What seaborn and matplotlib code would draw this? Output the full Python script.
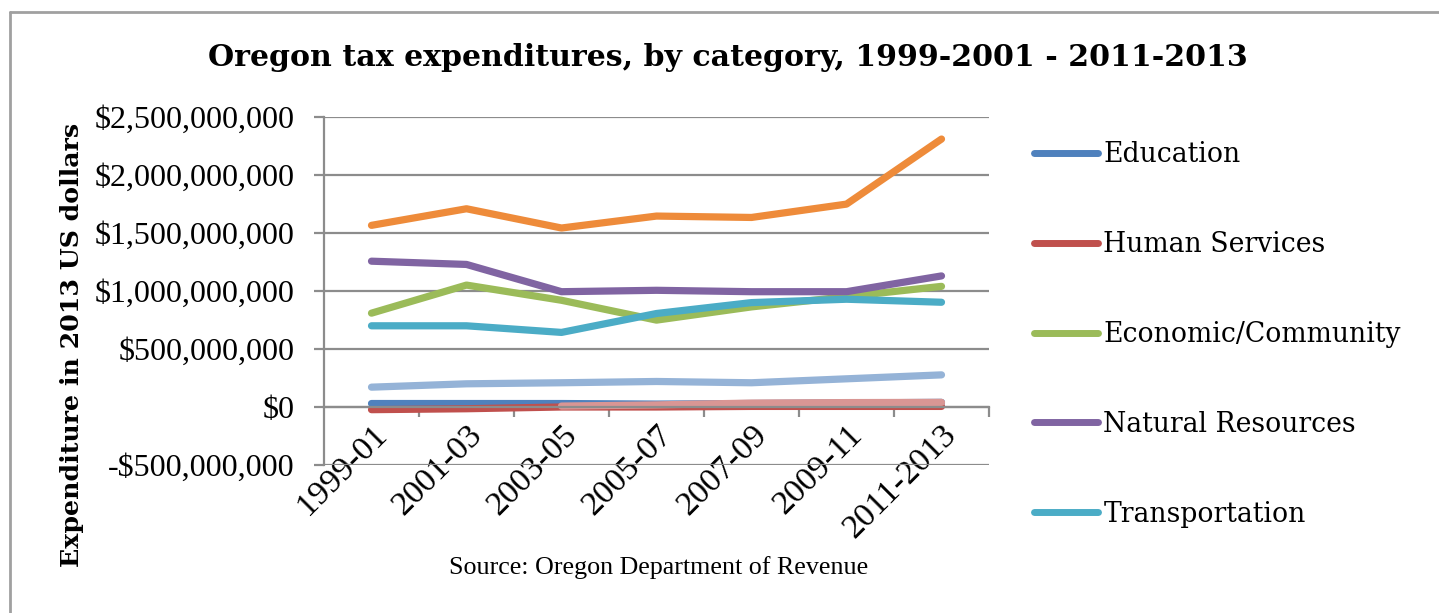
import numpy as np
import pandas as pd
import matplotlib
matplotlib.use("Agg")
import matplotlib.pyplot as plt
from matplotlib.lines import Line2D
from matplotlib.ticker import FuncFormatter, MultipleLocator, FixedLocator
import seaborn as sns

# Biennium labels
periods = ["1999-01", "2001-03", "2003-05", "2005-07", "2007-09", "2009-11", "2011-2013"]

# Tax expenditures in billions of 2013 US dollars
education = [0.030, 0.030, 0.030, 0.025, 0.030, 0.035, 0.040]
human_services = [-0.023, -0.015, 0.000, 0.000, 0.005, 0.005, 0.005]
economic_community = [0.809, 1.051, 0.920, 0.749, 0.863, 0.951, 1.040]
natural_resources = [1.257, 1.229, 0.994, 1.006, 0.994, 0.994, 1.130]
transportation = [0.700, 0.700, 0.643, 0.806, 0.900, 0.929, 0.903]
social_policy = [1.566, 1.709, 1.543, 1.646, 1.634, 1.749, 2.310]
consumer_business = [0.171, 0.200, 0.209, 0.220, 0.209, 0.243, 0.277]
public_safety = [np.nan, np.nan, 0.008, 0.018, 0.034, 0.038, 0.040]

series = {
    "Education": education,
    "Human Services": human_services,
    "Economic/Community": economic_community,
    "Natural Resources": natural_resources,
    "Transportation": transportation,
    "Social Policy": social_policy,
    "Consumer/Business": consumer_business,
    "Public Safety": public_safety,
}
legend_names = ["Education", "Human Services", "Economic/Community",
                "Natural Resources", "Transportation"]

colors = {
    "Education": "#4F81BD",
    "Human Services": "#C0504D",
    "Economic/Community": "#9BBB59",
    "Natural Resources": "#8064A2",
    "Transportation": "#4BACC6",
    "Social Policy": "#EE8B3A",
    "Consumer/Business": "#95B3D7",
    "Public Safety": "#D99694",
}

rows = []
for name, vals in series.items():
    for i, v in enumerate(vals):
        rows.append({"category": name, "pos": i, "period": periods[i], "value": v * 1e9})
df = pd.DataFrame(rows).dropna()

sns.set_theme(style="white")
plt.rcParams["font.family"] = ["DejaVu Serif"]
plt.rcParams.update({"text.color": "black", "axes.labelcolor": "black",
                     "xtick.color": "black", "ytick.color": "black"})

W, H = 1439, 613
fig = plt.figure(figsize=(W / 100, H / 100), dpi=100)
ax = fig.add_axes([324 / W, 1 - 465 / H, (989 - 324) / W, (465 - 117) / H])

sns.lineplot(data=df, x="pos", y="value", hue="category", hue_order=list(series.keys()),
             palette=colors, linewidth=5.2, ax=ax, legend=False, sort=False,
             solid_capstyle="round", solid_joinstyle="round")

grid_c = "#8C8C8C"
ax.set_xlim(-0.5, len(periods) - 0.5)
ax.set_ylim(-0.5e9, 2.5e9)
ax.yaxis.set_major_locator(MultipleLocator(0.5e9))
ax.grid(axis="y", color=grid_c, linewidth=1.6)
ax.set_axisbelow(True)


def dollars(v, _):
    v = int(round(v))
    return f"-${abs(v):,}" if v < 0 else f"${v:,}"


ax.yaxis.set_major_formatter(FuncFormatter(dollars))

for side in ["top", "right"]:
    ax.spines[side].set_visible(False)
ax.spines["left"].set_color(grid_c)
ax.spines["left"].set_linewidth(1.6)
ax.spines["bottom"].set_position(("data", 0))
ax.spines["bottom"].set_color(grid_c)
ax.spines["bottom"].set_linewidth(1.6)

# category labels at the centres, tick marks on the boundaries
ax.set_xticks(range(len(periods)))
ax.set_xticklabels(periods, rotation=45, ha="right", va="top", rotation_mode="anchor",
                   fontfamily="Liberation Serif", fontsize=24.5, color="black")
ax.xaxis.set_minor_locator(FixedLocator(np.arange(0.5, len(periods), 1.0)))
ax.tick_params(axis="x", which="major", length=0, pad=9)
ax.tick_params(axis="x", which="minor", length=7, width=1.6, color=grid_c, bottom=True)
ax.tick_params(axis="y", length=7, width=1.6, color=grid_c, left=True, pad=14,
               labelcolor="black")
for lbl in ax.get_yticklabels():
    lbl.set_fontfamily("Liberation Serif")
    lbl.set_fontsize(23)
ax.set_xlabel("")
ax.set_ylabel("")

fig.text(0.506, 1 - 58 / H, "Oregon tax expenditures, by category, 1999-2001 - 2011-2013",
         ha="center", va="center", fontsize=21.6, fontweight="bold", fontfamily="DejaVu Serif")
fig.text(72 / W, 1 - 345 / H, "Expenditure in 2013 US dollars", rotation=90,
         ha="center", va="center", fontsize=18.2, fontweight="bold", fontfamily="DejaVu Serif")
fig.text(659 / W, 1 - 568 / H, "Source: Oregon Department of Revenue",
         ha="center", va="center", fontsize=18.7, fontfamily="Liberation Serif")

handles = [Line2D([], [], color=colors[n], linewidth=5, solid_capstyle="round") for n in legend_names]
fig.legend(handles, legend_names, loc="upper left", bbox_to_anchor=(1034 / W, 1 - 141 / H),
           frameon=False, fontsize=19.2, handlelength=2.4, handletextpad=0.2,
           labelspacing=2.36, borderaxespad=0, borderpad=0)

# chart frame
fig.add_artist(Line2D([10 / W, 10 / W], [0, 1 - 12 / H], color="#A0A0A0", linewidth=2,
                      transform=fig.transFigure))
fig.add_artist(Line2D([10 / W, 1], [1 - 12 / H, 1 - 12 / H], color="#A0A0A0", linewidth=2,
                      transform=fig.transFigure))

fig.savefig("out.png", dpi=100)
